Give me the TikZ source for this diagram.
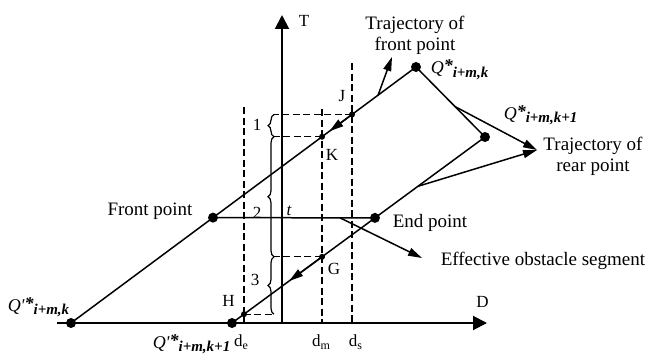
\documentclass[tikz,border=0pt]{standalone}
\usepackage{fontspec}
\setmainfont{Liberation Serif}
\usetikzlibrary{arrows.meta,decorations.pathreplacing,calc}
\newcommand{\mkQ}[2]{{\fontsize{18}{20}\selectfont\itshape Q#1\raisebox{2pt}{\bfseries *}}\raisebox{-3pt}{\fontsize{15}{17}\selectfont\bfseries\itshape #2}}
\newcommand{\mkd}[1]{d\raisebox{-3pt}{\fontsize{12}{14}\selectfont #1}}
\begin{document}
\begin{tikzpicture}[x=1pt,y=-1pt,
  line width=1.5pt,
  bigdot/.style={circle,fill=black,inner sep=0pt,minimum size=10pt},
  smalldot/.style={circle,fill=black,inner sep=0pt,minimum size=6pt},
  dashln/.style={line width=1.2pt,dash pattern=on 7pt off 3.5pt},
  axis/.style={line width=2pt,-{Triangle[length=14pt,width=14pt]}},
  callout/.style={line width=1.5pt,-{Triangle[length=14pt,width=8pt]}},
  txt/.style={inner sep=0pt,font=\fontsize{19}{21}\selectfont},
  lbl/.style={inner sep=0pt,font=\fontsize{17}{19}\selectfont},
  brc/.style={decorate,decoration={brace,amplitude=6pt},line width=1.2pt},
]
\useasboundingbox (0,0) rectangle (660,353);
% axes
\coordinate (O) at (282,323);
\coordinate (Dstart) at (57,323);
\coordinate (Dend) at (487,323);
\coordinate (Tend) at (282,15);
\draw[axis] (Dstart) -- (Dend);
\draw[axis] (O) -- (Tend);
% main points
\node[bigdot] (Qpk) at (71,323) {};
\node[bigdot] (Qk) at (416,67) {};
\node[bigdot] (Qpk1) at (232,323) {};
\node[bigdot] (Qk1) at (485,137) {};
\node[bigdot] (FP) at ($(Qpk)!0.4116!(Qk)$) {};
\node[bigdot] (EP) at ($(Qpk1)!0.5652!(Qk1)$) {};
\node[smalldot] (K) at ($(Qpk)!0.7275!(Qk)$) {};
\node[smalldot] (J) at ($(Qpk)!0.8145!(Qk)$) {};
\node[smalldot] (H) at ($(Qpk1)!0.0474!(Qk1)$) {};
\node[smalldot] (G) at ($(Qpk1)!0.3557!(Qk1)$) {};
% trajectories
\draw (Qpk.center) -- (Qk.center) -- (Qk1.center) -- (Qpk1.center);
\draw (FP.center) -- (EP.center);
\draw[callout] (J.center) -- ($(J)!0.75!(K)$);
\draw[callout] (G.center) -- ($(G)!0.42!(H)$);
% dashed guides
\coordinate (bx) at (274,0);
\coordinate (deTop) at (244,107);
\coordinate (dmTop) at (322,109);
\coordinate (dsTop) at (352,63);
\draw[dashln] (deTop) -- (deTop |- O);
\draw[dashln] (dmTop) -- (dmTop |- O);
\draw[dashln] (dsTop) -- (dsTop |- O);
\draw[dashln] (J.center) -- (J.center -| bx);
\draw[dashln] (K.center) -- (K.center -| bx);
\draw[dashln] (G.center) -- (G.center -| bx);
\draw[dashln] (H.center) -- (H.center -| bx);
% braces
\draw[brc] (K.center -| bx) -- (J.center -| bx);
\draw[brc] (G.center -| bx) -- (K.center -| bx);
\draw[brc] (H.center -| bx) -- (G.center -| bx);
% callouts
\coordinate (ftS) at ($(Qpk)!0.89!(Qk)$);
\coordinate (ftE) at (392,57);
\draw[callout] (ftS) -- (ftE);
\coordinate (rtA) at ($(Qk)!0.565!(Qk1)$);
\coordinate (rtB) at ($(Qpk1)!0.735!(Qk1)$);
\coordinate (rtE) at (537,150);
\draw[callout] (rtA) -- (rtE);
\draw[callout] (rtB) -- (rtE);
\coordinate (eoS) at ($(FP)!0.784!(EP)$);
\coordinate (eoE) at (422,258);
\draw[callout] (eoS) -- (eoE);
% texts
\node[txt,anchor=north,align=center] (tfp) at (415,15) {Trajectory of\\front point};
\node[txt,anchor=north,align=center] (trp) at (593,136) {Trajectory of\\rear point};
\node[txt,anchor=base] (fpl) at (150,215) {Front point};
\node[txt,anchor=base west] (epl) at (392,227) {End point};
\node[txt,anchor=base west] (eol) at (440,265) {Effective obstacle segment};
\node[lbl,anchor=base] (Tl) at (304,26.7) {T};
\node[lbl,anchor=base] (Dl) at (482.5,307) {D};
\node[lbl,anchor=base] (Jl) at (342,101.7) {J};
\node[lbl,anchor=base] (Kl) at (332,160) {K};
\node[lbl,anchor=base] (Gl) at (334,274) {G};
\node[lbl,anchor=base] (Hl) at (228.5,306.7) {H};
\node[lbl,anchor=base] (n1) at (257,130) {1};
\node[lbl,anchor=base] (n2) at (257,218) {2};
\node[lbl,anchor=base] (n3) at (255,285) {3};
\node[lbl,anchor=base] (tl) at (289,215) {\itshape t};
\node[lbl,anchor=base] (del) at (241,346) {\mkd{e}};
\node[lbl,anchor=base] (dml) at (321,346) {\mkd{m}};
\node[lbl,anchor=base] (dsl) at (355.5,346) {\mkd{s}};
\node[inner sep=0pt,anchor=base west] (Qkl) at (430,74) {\mkQ{}{i+m,k}};
\node[inner sep=0pt,anchor=base west] (Qk1l) at (503,119) {\mkQ{}{i+m,k+1}};
\node[inner sep=0pt,anchor=base west] (Qpkl) at (7,311) {\mkQ{\textquotesingle}{i+m,k}};
\node[inner sep=0pt,anchor=base west] (Qpk1l) at (152,348) {\mkQ{\textquotesingle}{i+m,k+1}};
\end{tikzpicture}
\end{document}
